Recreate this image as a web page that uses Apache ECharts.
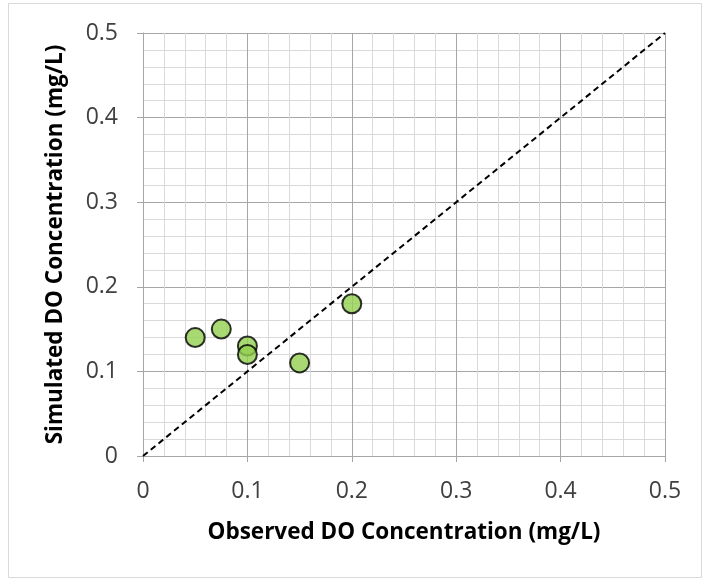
<!DOCTYPE html>
<html>
<head>
<meta charset="utf-8">
<script src="https://cdn.jsdelivr.net/npm/echarts@6/dist/echarts.min.js"></script>
<style>
  html, body { margin: 0; padding: 0; background: #fff; }
  #chart { width: 703px; height: 579px; }
</style>
</head>
<body>
<div id="chart"></div>
<script>
// observed vs simulated DO (mg/L)
const observed = [0.05, 0.075, 0.1, 0.1, 0.15, 0.2]
const simulated = [0.14, 0.15, 0.13, 0.12, 0.11, 0.18]
// 1:1 reference line
const oneToOne = [[0, 0], [0.5, 0.5]]

const xTitle = 'Observed DO Concentration (mg/L)'
const yTitle = 'Simulated DO Concentration (mg/L)'

const font = '"Open Sans", Lato, sans-serif'

const chart = echarts.init(document.getElementById('chart'))

const axisCommon = {
  type: 'value',
  min: 0,
  max: 0.5,
  interval: 0.1,
  nameLocation: 'middle',
  nameTextStyle: { fontFamily: font, fontSize: 22.5, fontWeight: 'bold', color: '#000' },
  axisLine: { show: true, lineStyle: { color: '#a6a6a6', width: 1 } },
  axisTick: { show: true, length: 6, lineStyle: { color: '#a6a6a6' } },
  axisLabel: {
    fontFamily: font,
    fontSize: 23,
    color: '#404040',
    formatter: (v) => (v === 0 ? '0' : String(+v.toFixed(1))),
  },
  splitLine: { show: true, lineStyle: { color: '#a6a6a6', width: 1 } },
  minorTick: { show: false, splitNumber: 5 },
  minorSplitLine: { show: true, lineStyle: { color: '#d9d9d9', width: 1 } },
}

const option = {
  animation: false,
  backgroundColor: '#fff',
  graphic: [
    {
      type: 'rect',
      shape: { x: 8.5, y: 3.5, width: 693, height: 574 },
      style: { fill: 'none', stroke: '#d9d9d9', lineWidth: 1 },
      silent: true,
    },
  ],
  grid: { left: 143, right: 38, top: 33, bottom: 123 },
  xAxis: Object.assign({}, axisCommon, {
    name: xTitle,
    nameGap: 65,
    axisLabel: Object.assign({}, axisCommon.axisLabel, { margin: 24 }),
  }),
  yAxis: Object.assign({}, axisCommon, {
    name: yTitle,
    nameGap: 76,
    axisLabel: Object.assign({}, axisCommon.axisLabel, { margin: 25 }),
  }),
  series: [
    {
      name: '1:1',
      type: 'line',
      data: oneToOne,
      showSymbol: false,
      symbol: 'none',
      lineStyle: { color: '#000', width: 2, type: [6, 4] },
      z: 2,
    },
    {
      name: 'DO',
      type: 'scatter',
      data: observed.map((x, i) => [x, simulated[i]]),
      symbol: 'circle',
      symbolSize: 19,
      itemStyle: { color: '#92d050', borderColor: '#000', borderWidth: 2 },
      z: 3,
    },
  ],
}

chart.setOption(option)
</script>
</body>
</html>
